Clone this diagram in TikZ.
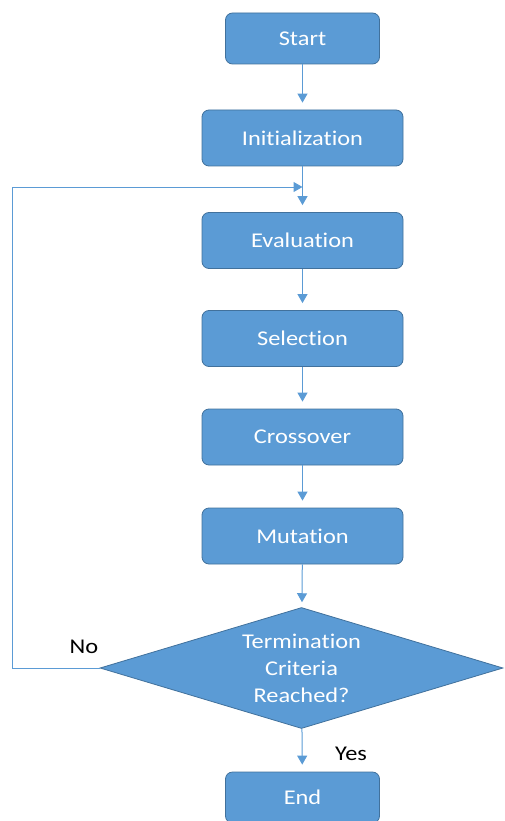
\documentclass[tikz,border=0pt]{standalone}
\usepackage{fontspec}
\setmainfont{Carlito}[Ligatures={NoCommon}, FakeStretch=1.16]
\usetikzlibrary{shapes.geometric,arrows.meta}
\definecolor{boxfill}{HTML}{5B9BD5}
\definecolor{boxline}{HTML}{41719C}
\definecolor{flow}{HTML}{5B9BD5}
\tikzset{
  stepbox/.style={draw=boxline, line width=0.8pt, fill=boxfill, rounded corners=7pt,
    minimum width=201pt, minimum height=56pt, inner sep=0pt,
    text=white, font=\fontsize{21}{27}\selectfont},
  endbox/.style={stepbox, minimum width=154pt, minimum height=51pt},
  decision/.style={diamond, draw=boxline, line width=0.8pt, fill=boxfill,
    minimum width=403pt, minimum height=121pt, aspect=3.33, inner sep=0pt,
    text=white, font=\fontsize{21}{27}\selectfont, align=center},
  flowline/.style={draw=flow, line width=1pt},
  flowarrow/.style={flowline, -{Triangle[width=10pt,length=9pt]}, shorten >=7pt},
  tag/.style={text=black, font=\fontsize{21}{27}\selectfont}
}
\begin{document}
\begin{tikzpicture}[x=1pt,y=-1pt]
  \useasboundingbox (0,0) rectangle (504,821);
  \begin{scope}
  \clip (0,0) rectangle (504,821);
  \node[endbox]  (start) at (302.5,38.5) {Start};
  \node[stepbox] (init)  at (302.5,138)  {Initialization};
  \node[stepbox] (eval)  at (302.5,240.5) {Evaluation};
  \node[stepbox] (sel)   at (302.5,338.5) {Selection};
  \node[stepbox] (cross) at (302.5,437)  {Crossover};
  \node[stepbox] (mut)   at (302.5,536)  {Mutation};
  \node[decision] (term) at (301.5,668) {Termination\\Criteria\\Reached?};
  \node[endbox]  (end)   at (302.5,797.5) {End};

  % loop-back corner points
  \coordinate (bl) at (12,668);
  \coordinate (tl) at (12,187);
  \coordinate (join) at (302.5,187);

  \draw[flowarrow] (start) -- (init);
  \draw[flowarrow] (init) -- (eval);
  \draw[flowarrow] (eval) -- (sel);
  \draw[flowarrow] (sel) -- (cross);
  \draw[flowarrow] (cross) -- (mut);
  \draw[flowarrow, shorten >=5pt] (mut) -- (term);
  \draw[flowarrow] (term) -- (end);
  \draw[flowline, -{Triangle[width=10pt,length=9pt]}] (term.west) -- (bl) -- (tl) -- (join);

  \node[tag] (no)  at (84,647) {No};
  \node[tag] (yes) at (351,754) {Yes};
  \end{scope}
\end{tikzpicture}
\end{document}
